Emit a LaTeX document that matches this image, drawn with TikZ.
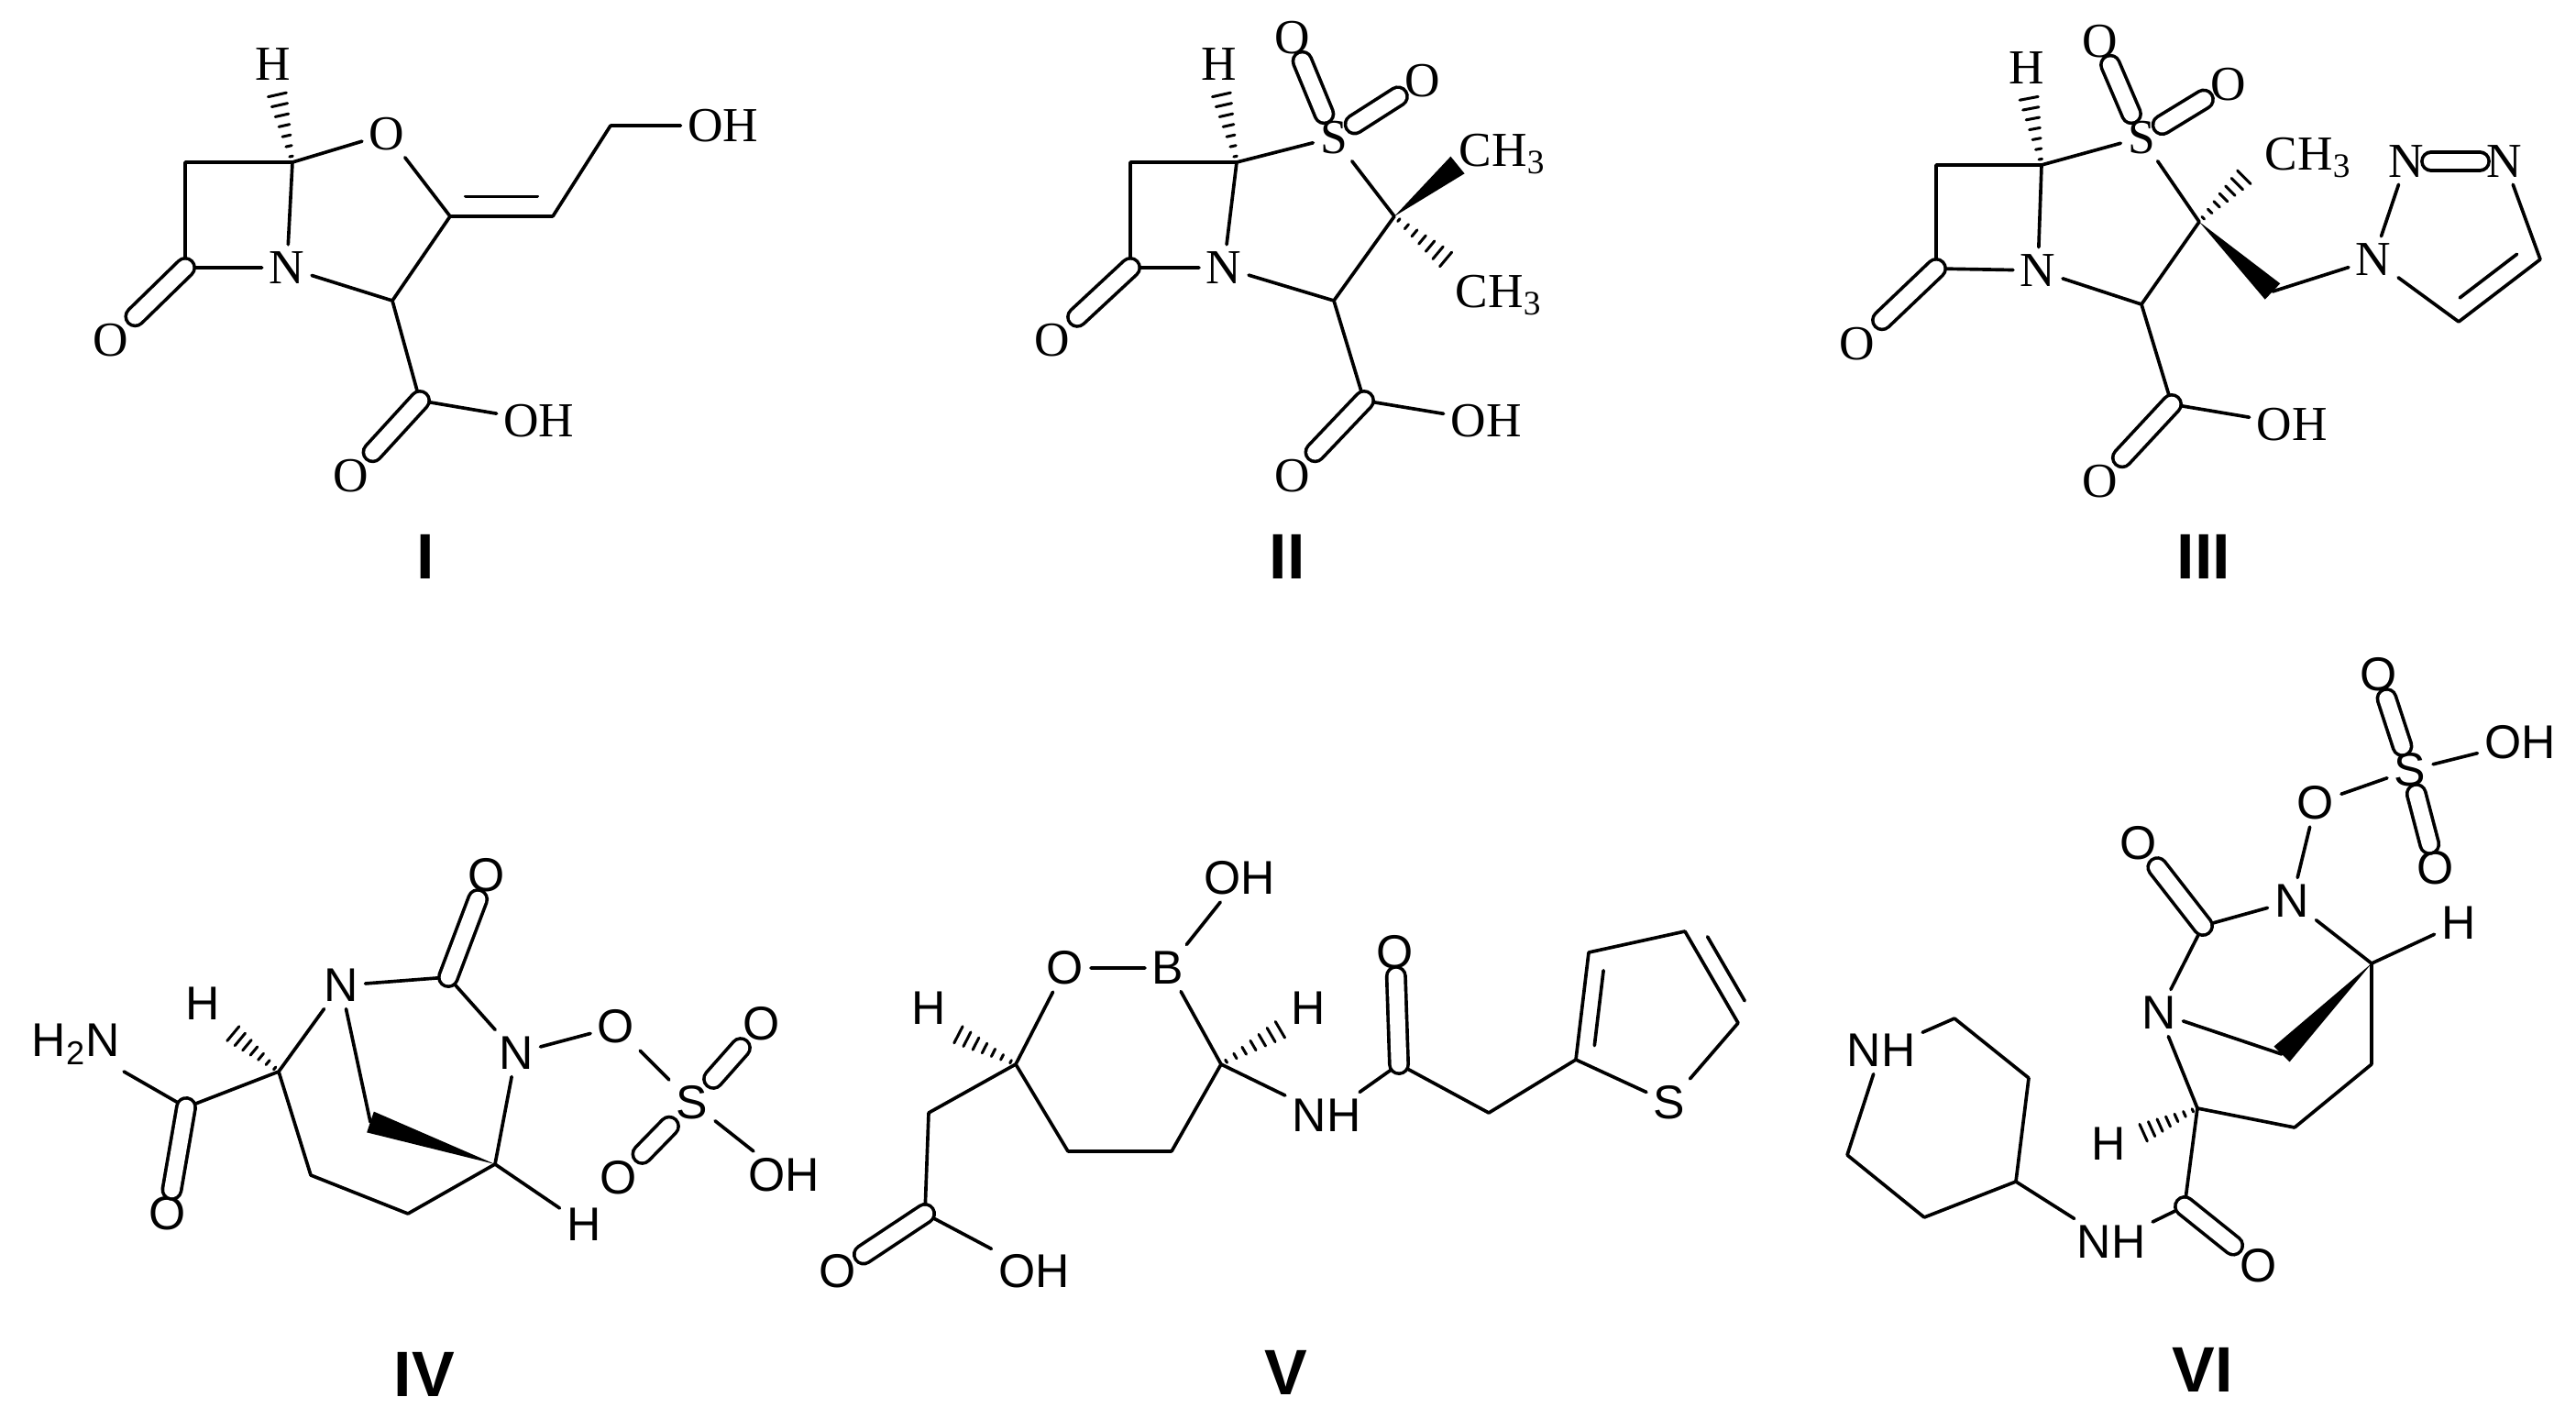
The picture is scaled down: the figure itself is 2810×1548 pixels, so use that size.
\documentclass[tikz,border=0pt]{standalone}
\usepackage{fontspec}
\setmainfont{Liberation Serif}
\newfontfamily\sfa{Liberation Sans}
\usetikzlibrary{calc}
\tikzset{
 ta/.style={font=\fontsize{16}{16}\selectfont, inner sep=1.8pt},
 ba/.style={font=\sfa\fontsize{15.5}{16}\selectfont, inner sep=1.8pt},
 lab/.style={font=\sfa\bfseries\fontsize{21}{22}\selectfont},
 dbl/.style={double, double distance=5pt},
 bond/.style={line width=1.1pt, line cap=round, line join=round}
}
\newcommand\hashb[2]{\foreach \t in {0.08,0.22,0.36,0.5,0.64,0.78,0.92}{\pgfmathsetmacro\w{0.3+\t*3}\draw[line width=0.9pt] ($(#1)!\t!(#2)!\w pt!90:(#2)$) -- ($(#1)!\t!(#2)!\w pt!-90:(#2)$);}}
\newcommand\wedgeb[2]{\fill (#1) -- ($(#2)!3.6pt!90:(#1)$) -- ($(#2)!3.6pt!-90:(#1)$) -- cycle;}
\newcommand\ringdb[3]{\draw ($(#1)!0.15!(#2)!#3!90:(#2)$) -- ($(#2)!0.15!(#1)!#3!-90:(#1)$);}
\begin{document}
\begin{tikzpicture}[x=0.3pt,y=-0.3pt,bond]
\useasboundingbox[fill=white] (0,0) rectangle (2810,1548);
% ---------- I ----------
\coordinate (Ia) at (202,177); \coordinate (Ib) at (319,177); \coordinate (Ic) at (202,292);
\node[ta] (IN) at (313,292) {N}; \node[ta] (IO) at (422,146) {O};
\coordinate (Id) at (491,236); \coordinate (Ie) at (428,328); \coordinate (If) at (603,236);
\coordinate (Ig) at (666,137); \node[ta] (IOH) at (789,137) {OH};
\node[ta] (IO2) at (121,371) {O}; \coordinate (Ih) at (458,437);
\node[ta] (IOH2) at (588,459) {OH}; \node[ta] (IO3) at (383,519) {O};
\node[ta] (IH) at (298,70) {H}; \coordinate (IHe) at (301,97);
\draw (Ia) -- (Ib) (Ia) -- (Ic) (Ib) -- (IN) (Ic) -- (IN) (Ib) -- (IO) (IO) -- (Id) (Id) -- (Ie) (Ie) -- (IN)
 (Id) -- (If) (If) -- (Ig) (Ig) -- (IOH) (Ie) -- (Ih) (Ih) -- (IOH2);
\ringdb{Id}{If}{6.5pt}
\draw[dbl] (Ic) -- (IO2); \draw[dbl] (Ih) -- (IO3);
\hashb{Ib}{IHe}
\node[lab] (L1) at (464,607) {I};
% ---------- II ----------
\coordinate (IIa) at (1233,177); \coordinate (IIb) at (1349,177); \coordinate (IIc) at (1233,292);
\node[ta] (IIN) at (1335,292) {N}; \node[ta] (IIS) at (1455,150) {S};
\node[ta] (IIO1) at (1410,41) {O}; \node[ta] (IIO2) at (1552,88) {O};
\coordinate (IIC3) at (1521,236); \coordinate (IIC2) at (1455,328);
\node[ta] (IIMe1) at (1639,168) {CH\textsubscript{3}}; \coordinate (IIW) at (1590,180);
\node[ta] (IIMe2) at (1635,322) {CH\textsubscript{3}}; \coordinate (IIHs) at (1582,287);
\coordinate (IIh) at (1488,437); \node[ta] (IIOH) at (1621,459) {OH};
\node[ta] (IIO3) at (1410,519) {O}; \node[ta] (IIO4) at (1148,371) {O};
\node[ta] (IIH) at (1330,70) {H}; \coordinate (IIHe) at (1331,97);
\draw (IIa) -- (IIb) (IIa) -- (IIc) (IIb) -- (IIN) (IIc) -- (IIN) (IIb) -- (IIS) (IIS) -- (IIC3) (IIC3) -- (IIC2) (IIC2) -- (IIN)
 (IIC2) -- (IIh) (IIh) -- (IIOH);
\draw[dbl] (IIS) -- (IIO1); \draw[dbl] (IIS) -- (IIO2); \draw[dbl] (IIc) -- (IIO4); \draw[dbl] (IIh) -- (IIO3);
\wedgeb{IIC3}{IIW} \hashb{IIC3}{IIHs} \hashb{IIb}{IIHe}
\node[lab] (L2) at (1404,607) {II};
% ---------- III ----------
\coordinate (IIIa) at (2112,180); \coordinate (IIIb) at (2227,180); \coordinate (IIIc) at (2112,293);
\node[ta] (IIIN) at (2223,295) {N}; \node[ta] (IIIS) at (2336,150) {S};
\node[ta] (IIIO1) at (2291,45) {O}; \node[ta] (IIIO2) at (2431,92) {O};
\coordinate (IIIC3) at (2399,242); \coordinate (IIIC2) at (2336,332);
\node[ta] (IIIMe) at (2518,172) {CH\textsubscript{3}}; \coordinate (IIIHs) at (2452,189);
\coordinate (IIIm) at (2479,318);
\node[ta] (IIIN1) at (2589,283) {N}; \node[ta] (IIIN2) at (2625,176) {N}; \node[ta] (IIIN3) at (2732,176) {N};
\coordinate (IIIt4) at (2771,283); \coordinate (IIIt5) at (2682,351);
\coordinate (IIIh) at (2369,441); \node[ta] (IIIOH) at (2500,463) {OH};
\node[ta] (IIIO3) at (2291,525) {O}; \node[ta] (IIIO4) at (2026,375) {O};
\node[ta] (IIIH) at (2211,74) {H}; \coordinate (IIIHe) at (2212,101);
\draw (IIIa) -- (IIIb) (IIIa) -- (IIIc) (IIIb) -- (IIIN) (IIIc) -- (IIIN) (IIIb) -- (IIIS) (IIIS) -- (IIIC3) (IIIC3) -- (IIIC2) (IIIC2) -- (IIIN)
 (IIIC2) -- (IIIh) (IIIh) -- (IIIOH) (IIIm) -- (IIIN1) (IIIN1) -- (IIIN2) (IIIN3) -- (IIIt4) (IIIt4) -- (IIIt5) (IIIt5) -- (IIIN1);
\ringdb{IIIt4}{IIIt5}{-6pt}
\draw[dbl] (IIIS) -- (IIIO1); \draw[dbl] (IIIS) -- (IIIO2); \draw[dbl] (IIIc) -- (IIIO4); \draw[dbl] (IIIh) -- (IIIO3);
\draw[dbl] (IIIN2) -- (IIIN3);
\wedgeb{IIIC3}{IIIm} \hashb{IIIC3}{IIIHs} \hashb{IIIb}{IIIHe}
\node[lab] (L3) at (2404,607) {III};
% ---------- IV ----------
\node[ba] (IVNH2) at (83,1139) {H\textsubscript{2}N};
\coordinate (IVam) at (203,1208); \node[ba] (IVO1) at (183,1324) {O};
\coordinate (IVC2) at (304,1169); \node[ba] (IVH1) at (221,1095) {H}; \coordinate (IVH1e) at (250,1124);
\node[ba] (IVN6) at (372,1075) {N}; \coordinate (IVC7) at (489,1066); \node[ba] (IVO2) at (531,955) {O};
\node[ba] (IVN1) at (563,1149) {N}; \node[ba] (IVO3) at (672,1120) {O}; \node[ba] (IVS) at (755,1203) {S};
\node[ba] (IVO4) at (831,1117) {O}; \node[ba] (IVO5) at (675,1285) {O}; \node[ba] (IVOH) at (855,1282) {OH};
\coordinate (IVC5) at (540,1270); \node[ba] (IVH2) at (637,1336) {H};
\coordinate (IVC4) at (445,1324); \coordinate (IVC3) at (339,1282); \coordinate (IVb) at (404,1224);
\draw (IVNH2) -- (IVam) (IVam) -- (IVC2) (IVC2) -- (IVN6) (IVN6) -- (IVC7) (IVC7) -- (IVN1) (IVN1) -- (IVO3) (IVO3) -- (IVS) (IVS) -- (IVOH)
 (IVN1) -- (IVC5) (IVC5) -- (IVH2) (IVC5) -- (IVC4) (IVC4) -- (IVC3) (IVC3) -- (IVC2) (IVN6) -- (IVb);
\draw[dbl] (IVam) -- (IVO1); \draw[dbl] (IVC7) -- (IVO2); \draw[dbl] (IVS) -- (IVO4); \draw[dbl] (IVS) -- (IVO5);
\wedgeb{IVC5}{IVb} \hashb{IVC2}{IVH1e}
\node[lab] (L4) at (463,1499) {IV};
% ---------- V ----------
\node[ba] (VOH1) at (1352,958) {OH}; \node[ba] (VB) at (1274,1056) {B}; \node[ba] (VO) at (1162,1056) {O};
\coordinate (VC6) at (1108,1161); \node[ba] (VH1) at (1013,1100) {H}; \coordinate (VH1e) at (1040,1126);
\coordinate (VC5) at (1165,1256); \coordinate (VC4) at (1278,1256); \coordinate (VC3) at (1332,1161);
\node[ba] (VH2) at (1427,1100) {H}; \coordinate (VH2e) at (1402,1120);
\node[ba] (VNH) at (1447,1217) {NH}; \coordinate (Vam) at (1526,1161); \node[ba] (VO2) at (1522,1039) {O};
\coordinate (Vm) at (1624,1214); \coordinate (Vt2) at (1719,1156); \coordinate (Vt3) at (1733,1039);
\coordinate (Vt4) at (1838,1016); \coordinate (Vt5) at (1896,1116); \node[ba] (VS) at (1821,1203) {S};
\coordinate (Vm2) at (1013,1214); \coordinate (Vc) at (1009,1324);
\node[ba] (VO3) at (914,1387) {O}; \node[ba] (VOH2) at (1128,1387) {OH};
\draw (VOH1) -- (VB) (VB) -- (VO) (VO) -- (VC6) (VC6) -- (VC5) (VC5) -- (VC4) (VC4) -- (VC3) (VC3) -- (VB)
 (VC3) -- (VNH) (VNH) -- (Vam) (Vam) -- (Vm) (Vm) -- (Vt2) (Vt2) -- (Vt3) (Vt3) -- (Vt4) (Vt4) -- (Vt5) (Vt5) -- (VS) (VS) -- (Vt2)
 (VC6) -- (Vm2) (Vm2) -- (Vc) (Vc) -- (VOH2);
\ringdb{Vt2}{Vt3}{-5.5pt} \ringdb{Vt4}{Vt5}{5.5pt}
\draw[dbl] (Vam) -- (VO2); \draw[dbl] (Vc) -- (VO3);
\hashb{VC6}{VH1e} \hashb{VC3}{VH2e}
\node[lab] (L5) at (1403,1497) {V};
% ---------- VI ----------
\node[ba] (VIO1) at (2595,736) {O}; \node[ba] (VIS) at (2629,840) {S}; \node[ba] (VIOH) at (2749,810) {OH};
\node[ba] (VIO2) at (2657,947) {O}; \node[ba] (VIO3) at (2526,876) {O}; \node[ba] (VIN) at (2500,983) {N};
\coordinate (VIcc) at (2403,1010); \node[ba] (VIO4) at (2333,920) {O}; \node[ba] (VINl) at (2355,1105) {N};
\coordinate (VICr) at (2587,1051); \node[ba] (VIH1) at (2682,1007) {H}; \coordinate (VIb) at (2489,1150);
\coordinate (VICa) at (2587,1161); \coordinate (VICb) at (2503,1230); \coordinate (VIC2) at (2397,1209);
\node[ba] (VIH2) at (2300,1248) {H}; \coordinate (VIH2e) at (2333,1238);
\coordinate (VIam) at (2383,1316); \node[ba] (VIO5) at (2464,1381) {O}; \node[ba] (VINH) at (2303,1355) {NH};
\coordinate (VIp4) at (2199,1289); \coordinate (VIpa) at (2213,1176); \coordinate (VIpb) at (2132,1111);
\node[ba] (VIpN) at (2052,1146) {NH}; \coordinate (VIpc) at (2015,1260); \coordinate (VIpd) at (2099,1328);
\draw (VIS) -- (VIOH) (VIS) -- (VIO3) (VIO3) -- (VIN) (VIN) -- (VIcc) (VIcc) -- (VINl) (VIN) -- (VICr) (VICr) -- (VIH1)
 (VINl) -- (VIb) (VICr) -- (VICa) (VICa) -- (VICb) (VICb) -- (VIC2) (VIC2) -- (VINl) (VIC2) -- (VIam) (VIam) -- (VINH)
 (VINH) -- (VIp4) (VIp4) -- (VIpa) (VIpa) -- (VIpb) (VIpb) -- (VIpN) (VIpN) -- (VIpc) (VIpc) -- (VIpd) (VIpd) -- (VIp4);
\draw[dbl] (VIS) -- (VIO1); \draw[dbl] (VIS) -- (VIO2); \draw[dbl] (VIcc) -- (VIO4); \draw[dbl] (VIam) -- (VIO5);
\wedgeb{VICr}{VIb} \hashb{VIC2}{VIH2e}
\node[lab] (L6) at (2403,1494) {VI};
\end{tikzpicture}
\end{document}
